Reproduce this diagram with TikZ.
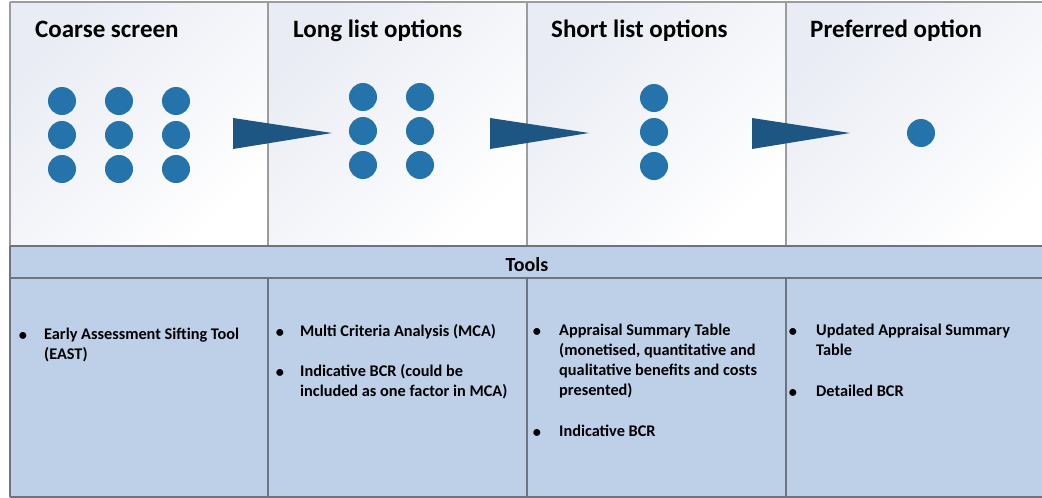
\documentclass[tikz,border=0pt]{standalone}
\usepackage{fontspec}
\setmainfont{Carlito}
\definecolor{dotblue}{HTML}{2473AA}
\definecolor{arrowblue}{HTML}{1E5683}
\definecolor{toolfill}{HTML}{BDD0E8}
\definecolor{panelshade}{HTML}{E9ECF4}
\definecolor{lightline}{HTML}{9C9C9C}
\definecolor{darkline}{HTML}{6B7480}
\begin{document}
\begin{tikzpicture}[x=1pt,y=-1pt,
  stagepanel/.style={shade, shading=axis, top color=panelshade, bottom color=white,
    shading angle=45, draw=none, minimum height=244pt, inner sep=0pt, anchor=north west},
  toolcell/.style={fill=toolfill, draw=none, minimum height=219pt, inner sep=0pt, anchor=north west},
  dot/.style={circle, fill=dotblue, minimum size=28pt, inner sep=0pt},
  title/.style={font=\fontsize{25}{30}\selectfont\bfseries, anchor=base west, inner sep=0pt},
  item/.style={font=\fontsize{16.3}{20}\selectfont\bfseries, align=left, anchor=base west, inner sep=0pt},
  bul/.style={font=\fontsize{16.3}{20}\selectfont\bfseries, anchor=base, inner sep=0pt, yshift=-1.5pt},
  funnel/.style={fill=arrowblue}
]
\useasboundingbox (0,0) rectangle (1042,498);
\clip (0,0) rectangle (1042,498);

% stage panels
\node[stagepanel, minimum width=258pt] (p1) at (10,2) {};
\node[stagepanel, minimum width=259pt] (p2) at (268,2) {};
\node[stagepanel, minimum width=259pt] (p3) at (527,2) {};
\node[stagepanel, minimum width=270pt] (p4) at (786,2) {};

% tools band and cells
\node[fill=toolfill, minimum width=1040pt, minimum height=32pt, inner sep=0pt, anchor=north west] (band) at (10,246) {};
\node[toolcell, minimum width=258pt] (t1) at (10,278) {};
\node[toolcell, minimum width=259pt] (t2) at (268,278) {};
\node[toolcell, minimum width=259pt] (t3) at (527,278) {};
\node[toolcell, minimum width=270pt] (t4) at (786,278) {};

% grid lines
\draw[lightline, line width=1.5pt] (10,2) -- (1050,2);
\draw[lightline, line width=1.5pt] (10,2) -- (10,246);
\foreach \xx in {268,527,786} \draw[lightline, line width=1.5pt] (\xx,2) -- (\xx,246);
\draw[darkline, line width=1.5pt] (10,246) -- (10,497);
\draw[darkline, line width=1.2pt] (10,246) -- (1050,246);
\draw[darkline, line width=1.2pt] (10,278) -- (1050,278);
\draw[darkline, line width=2pt] (10,497) -- (1050,497);
\foreach \xx in {268,527,786} \draw[darkline, line width=1.2pt] (\xx,278) -- (\xx,497);

% titles
\node[title] (h1) at (35,37) {Coarse screen};
\node[title] (h2) at (293,37) {Long list options};
\node[title] (h3) at (551,37) {Short list options};
\node[title] (h4) at (810,37) {Preferred option};

% options as dots
\node[dot] (a1) at (62,101) {};  \node[dot] (a2) at (119,101) {}; \node[dot] (a3) at (176,101) {};
\node[dot] (a4) at (62,135) {};  \node[dot] (a5) at (119,135) {}; \node[dot] (a6) at (176,135) {};
\node[dot] (a7) at (62,169) {};  \node[dot] (a8) at (119,169) {}; \node[dot] (a9) at (176,169) {};
\node[dot] (b1) at (363,97) {};  \node[dot] (b2) at (420,97) {};
\node[dot] (b3) at (363,131) {}; \node[dot] (b4) at (420,131) {};
\node[dot] (b5) at (363,165) {}; \node[dot] (b6) at (420,165) {};
\node[dot] (c1) at (654,98) {};
\node[dot] (c2) at (654,132) {};
\node[dot] (c3) at (654,166) {};
\node[dot] (d1) at (921,133) {};

% sifting wedges
\fill[funnel] (233,118) -- (233,149) -- (332,133) -- cycle;
\fill[funnel] (490,118) -- (490,149) -- (589,133) -- cycle;
\fill[funnel] (752,118) -- (752,149) -- (850,133) -- cycle;

% tools heading
\node[font=\fontsize{20}{24}\selectfont\bfseries, inner sep=0pt, anchor=base] (tools) at (527,271) {Tools};

% tool lists: bullets sit on the first-line baseline, text blocks on their last-line baseline
\node[bul] (u1) at (23,339) {•};
\node[item] (i1) at (44,359) {Early Assessment Sifting Tool\\(EAST)};

\node[bul] (u2) at (280,336) {•};
\node[item] (i2) at (300,336) {Multi Criteria Analysis (MCA)};
\node[bul] (u3) at (280,376) {•};
\node[item] (i3) at (300,396) {Indicative BCR (could be\\included as one factor in MCA)};

\node[bul] (u4) at (537,335) {•};
\node[item] (i4) at (559,395) {Appraisal Summary Table\\(monetised, quantitative and\\qualitative benefits and costs\\presented)};
\node[bul] (u5) at (537,436) {•};
\node[item] (i5) at (559,436) {Indicative BCR};

\node[bul] (u6) at (793,335) {•};
\node[item] (i6) at (816,355) {Updated Appraisal Summary\\Table};
\node[bul] (u7) at (793,396) {•};
\node[item] (i7) at (816,396) {Detailed BCR};
\end{tikzpicture}
\end{document}
